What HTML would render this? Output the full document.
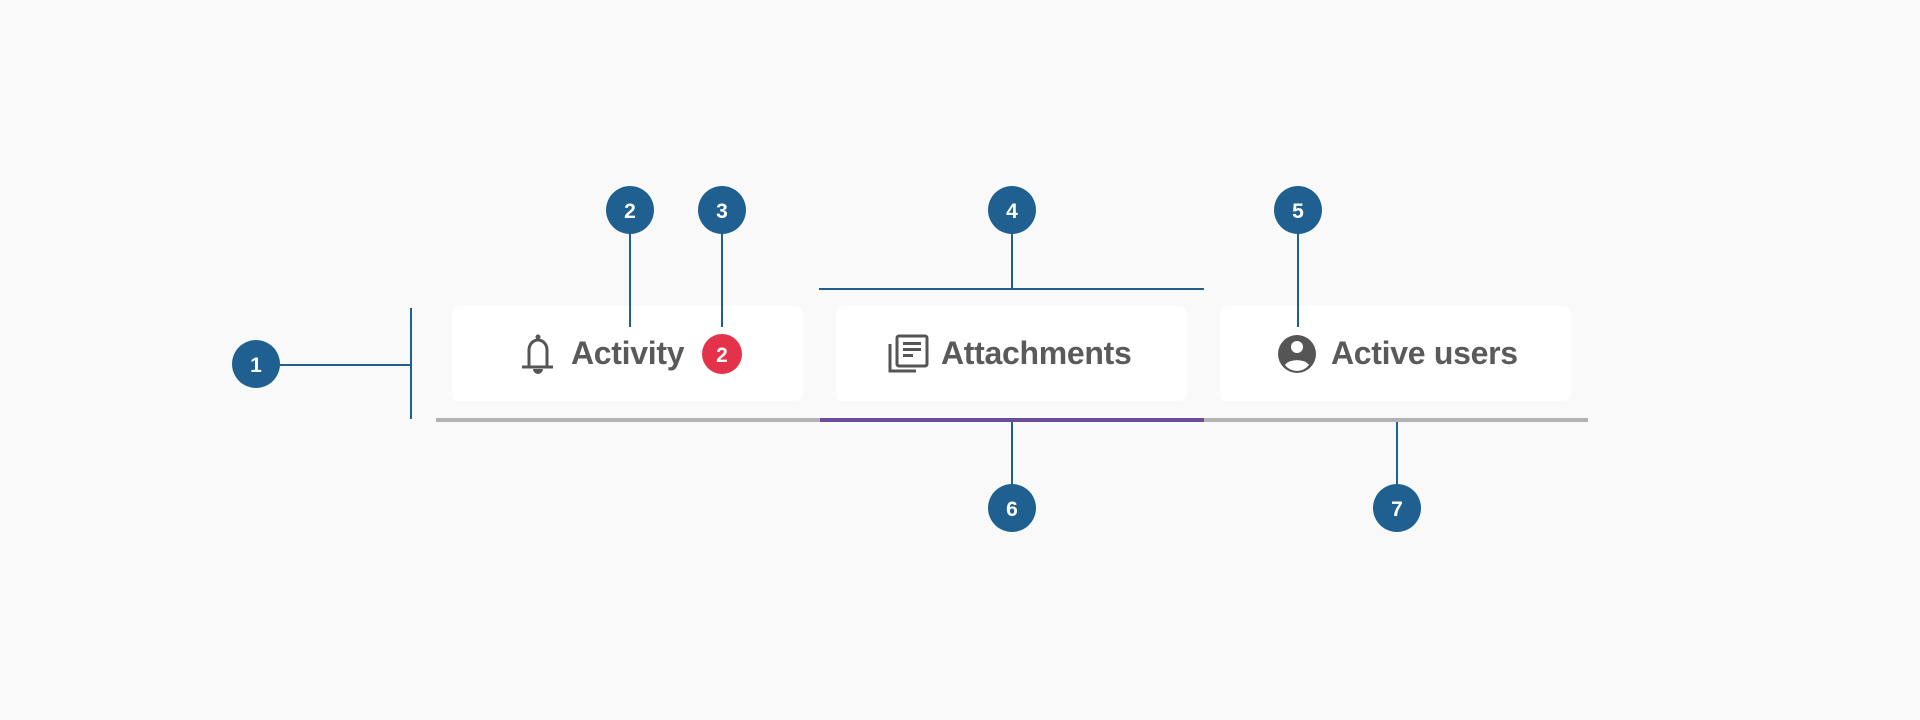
<!DOCTYPE html>
<html><head><style>
body{margin:0;width:1920px;height:720px;background:#f9f9f9;position:relative;overflow:hidden;font-family:"Liberation Sans",sans-serif}
.card{position:absolute;top:306px;height:95px;background:#fff;border-radius:7px}
.t{position:absolute;font-size:32px;font-weight:bold;color:#5a5a5a;top:333px;line-height:40px;letter-spacing:-0.3px}
</style></head><body>
<div class="card" style="left:452px;width:351px"></div>
<div class="card" style="left:836px;width:351px"></div>
<div class="card" style="left:1220px;width:351px"></div>
<div class="t" style="left:571px">Activity</div>
<div class="t" style="left:941px">Attachments</div>
<div class="t" style="left:1331px">Active users</div>
<svg width="1920" height="720" style="position:absolute;left:0;top:0">
<g stroke="#1f6091" stroke-width="2" fill="none">
<line x1="411" y1="308" x2="411" y2="419"/>
<line x1="256" y1="365" x2="411" y2="365"/>
<line x1="630" y1="210" x2="630" y2="327"/>
<line x1="722" y1="210" x2="722" y2="327"/>
<line x1="1012" y1="210" x2="1012" y2="289"/>
<line x1="819" y1="289" x2="1204" y2="289"/>
<line x1="1298" y1="210" x2="1298" y2="327"/>
<line x1="1012" y1="422" x2="1012" y2="508"/>
<line x1="1397" y1="422" x2="1397" y2="508"/>
</g>
<rect x="436" y="418" width="384" height="4" fill="#b3b3b3"/>
<rect x="820" y="418" width="384" height="4" fill="#6b4c9a"/>
<rect x="1204" y="418" width="384" height="4" fill="#b3b3b3"/>
<g fill="#1f6091">
<circle cx="256" cy="364" r="24"/><circle cx="630" cy="210" r="24"/><circle cx="722" cy="210" r="24"/>
<circle cx="1012" cy="210" r="24"/><circle cx="1298" cy="210" r="24"/><circle cx="1012" cy="508" r="24"/><circle cx="1397" cy="508" r="24"/>
</g>
<circle cx="722" cy="354" r="20" fill="#e3324a"/>
<g fill="#fff" font-family="Liberation Sans,sans-serif" font-size="21" font-weight="bold" text-anchor="middle">
<text x="256" y="372">1</text><text x="630" y="218">2</text><text x="722" y="218">3</text>
<text x="1012" y="218">4</text><text x="1298" y="218">5</text><text x="1012" y="516">6</text><text x="1397" y="516">7</text>
<text x="722" y="362">2</text>
</g>
<g fill="none" stroke="#555" stroke-width="3">
<path d="M529 366 V350 a9 10 0 0 1 18 0 V366"/>
<line x1="522" y1="367" x2="553" y2="367"/>
</g>
<circle cx="538" cy="337" r="2.5" fill="#555"/>
<path d="M533 369 a5 5 0 0 0 10 0z" fill="#555"/>
<g fill="none" stroke="#555" stroke-width="3">
<path d="M890 344 V371 H916"/>
<rect x="897" y="336" width="30" height="30" rx="2"/>
</g>
<g fill="#555"><rect x="903" y="342" width="18" height="3"/><rect x="903" y="348" width="18" height="3"/><rect x="903" y="354" width="10" height="3"/></g>
<circle cx="1297" cy="354" r="19" fill="#555"/>
<circle cx="1297" cy="347" r="6" fill="#fff"/>
<path d="M1285 365 a13 8 0 0 1 24 0 a15 15 0 0 1 -24 0z" fill="#fff"/>
</svg>
</body></html>
